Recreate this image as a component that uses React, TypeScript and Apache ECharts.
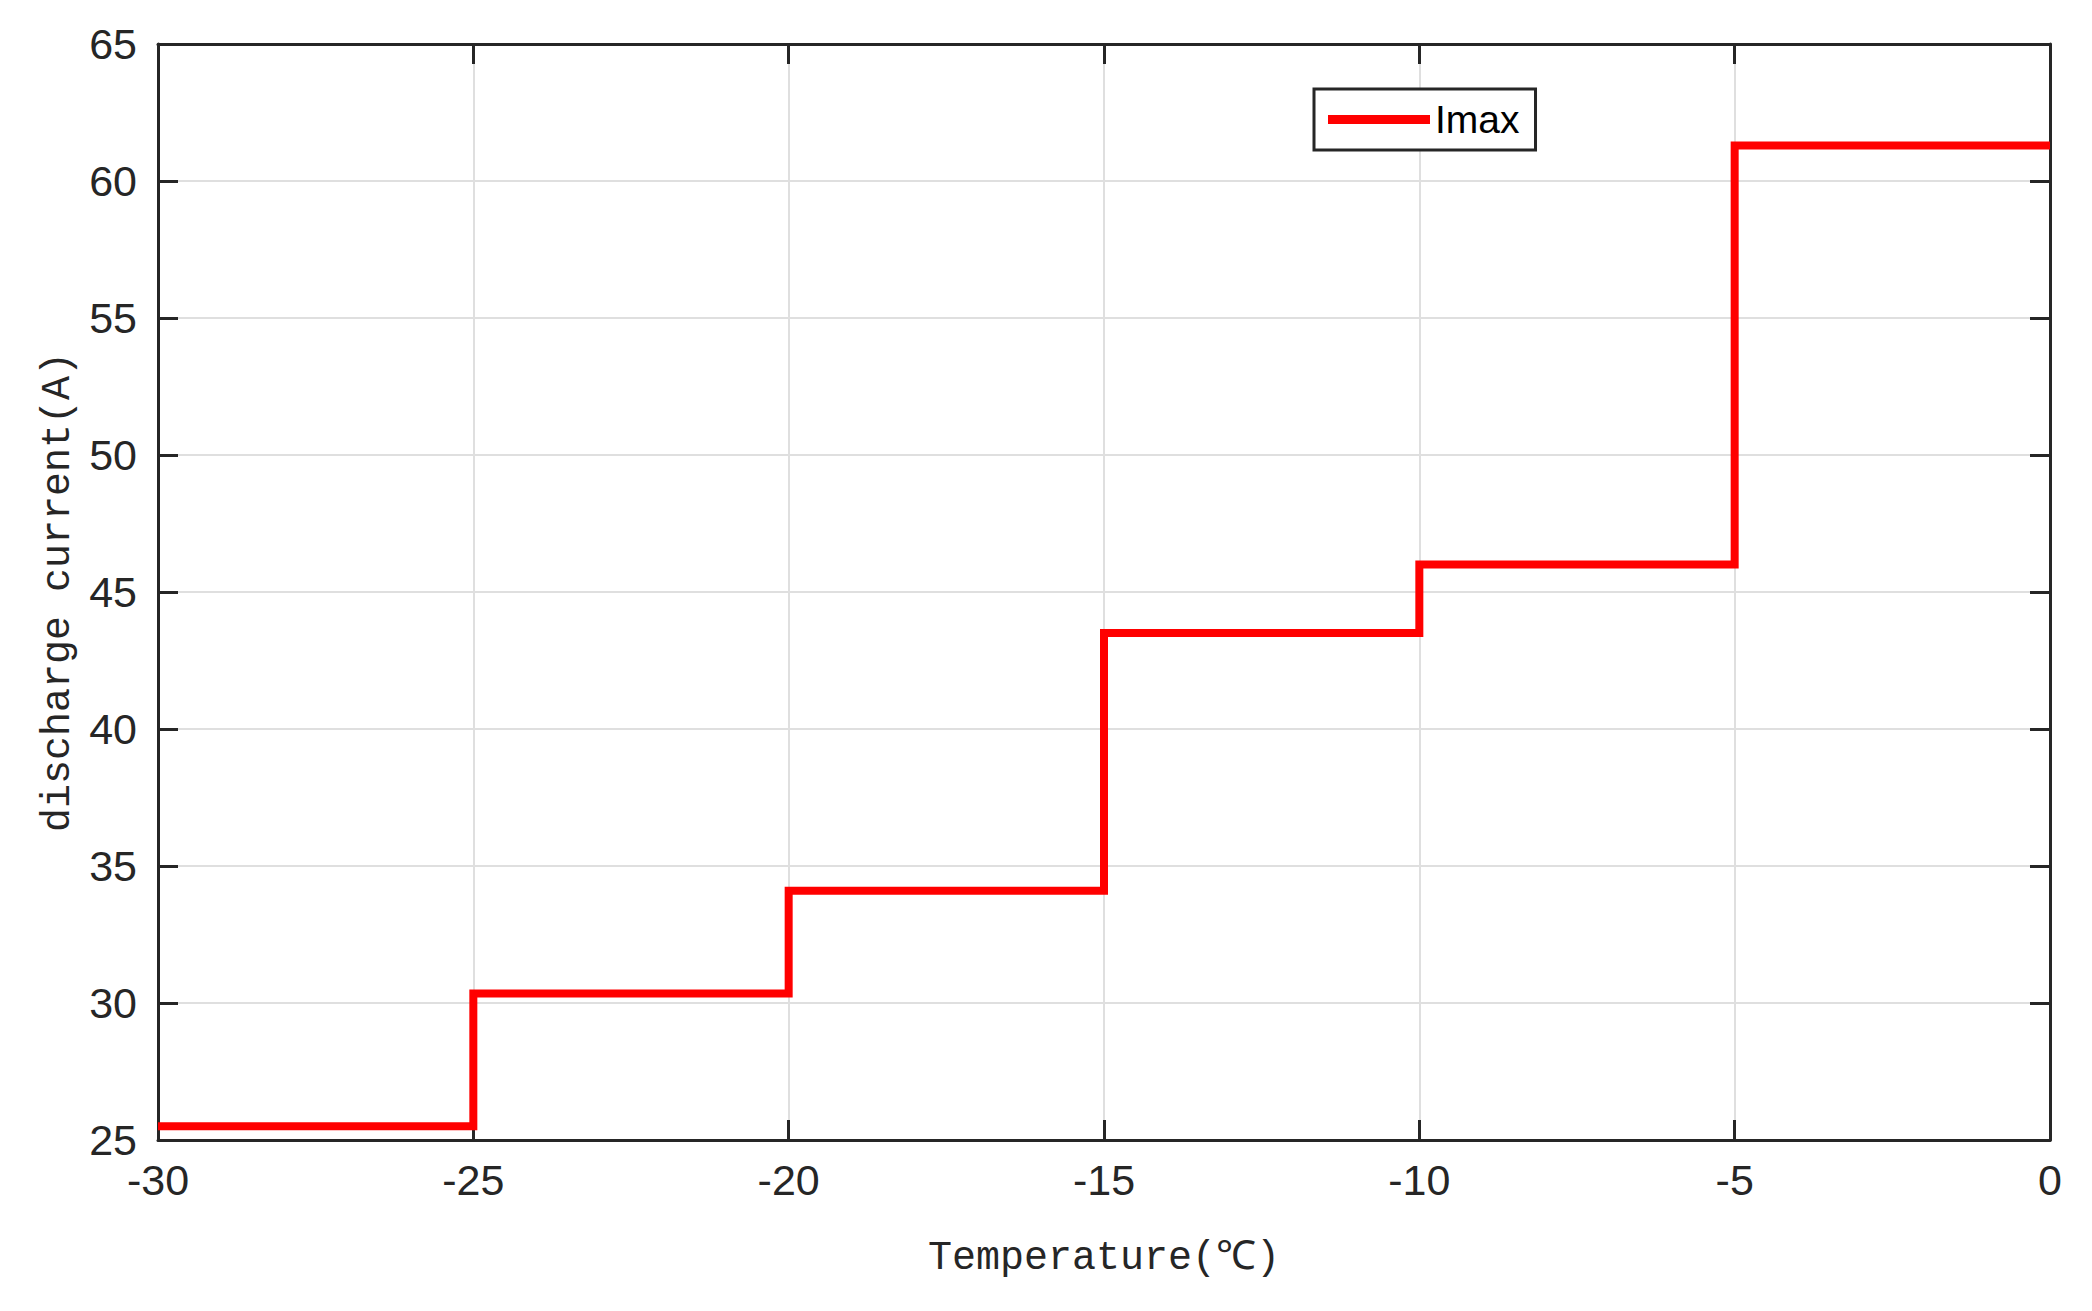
import { useEffect, useRef } from "react";
import * as echarts from "echarts";

// temperature breakpoints (°C) and the max discharge current at each step
const temps = [-30, -25, -20, -15, -10, -5, 0];
const imax = [25.5, 30.35, 34.1, 43.5, 46.0, 61.3, 61.3];
const seriesName = "Imax";

const xTitle = "Temperature(℃)";
const yTitle = "discharge current(A)";

const axisColor = "#262626";
const gridColor = "#dfdfdf";
const labelFont = "Arial, 'Liberation Sans', Helvetica, sans-serif";
const titleFont = "'Liberation Mono', 'DejaVu Sans Mono', monospace";

export default function App() {
  const chartRef = useRef<HTMLDivElement>(null);

  useEffect(() => {
    if (!chartRef.current) return;
    const chart = echarts.init(chartRef.current, null, { renderer: "svg" });

    const boxAxis = {
      axisLine: { show: true, lineStyle: { color: axisColor, width: 3 } },
      axisTick: { show: true, inside: true, length: 20, lineStyle: { color: axisColor, width: 3 } },
      axisLabel: { show: false },
      splitLine: { show: false },
    };

    const option: echarts.EChartsOption = {
      animation: false,
      backgroundColor: "#ffffff",
      grid: { left: 158, top: 44, width: 1892, height: 1096, containLabel: false },
      legend: {
        data: [{ name: seriesName, icon: "rect" }],
        left: 1314,
        top: 89,
        itemWidth: 102,
        itemHeight: 9,
        itemGap: 0,
        padding: [8, 16, 8, 14],
        borderColor: axisColor,
        borderWidth: 3,
        backgroundColor: "#ffffff",
        textStyle: {
          fontFamily: labelFont,
          fontSize: 39,
          color: "#000000",
          padding: [0, 0, 0, 0],
          lineHeight: 45,
        },
        itemStyle: { color: "#ff0000" },
      },
      xAxis: [
        {
          type: "value",
          position: "bottom",
          min: -30,
          max: 0,
          interval: 5,
          name: xTitle,
          nameLocation: "middle",
          nameGap: 98,
          nameTextStyle: { fontFamily: titleFont, fontSize: 40, color: axisColor },
          axisLine: { show: true, onZero: false, lineStyle: { color: axisColor, width: 3 } },
          axisTick: { show: true, inside: true, length: 20, lineStyle: { color: axisColor, width: 3 } },
          axisLabel: { fontFamily: labelFont, fontSize: 43, color: axisColor, margin: 18 },
          splitLine: { show: true, lineStyle: { color: gridColor, width: 2 } },
        },
        {
          type: "value",
          position: "top",
          min: -30,
          max: 0,
          interval: 5,
          ...boxAxis,
        } as any,
      ],
      yAxis: [
        {
          type: "value",
          position: "left",
          min: 25,
          max: 65,
          interval: 5,
          name: yTitle,
          nameLocation: "middle",
          nameGap: 80,
          nameTextStyle: { fontFamily: titleFont, fontSize: 40, color: axisColor },
          axisLine: { show: true, onZero: false, lineStyle: { color: axisColor, width: 3 } },
          axisTick: { show: true, inside: true, length: 20, lineStyle: { color: axisColor, width: 3 } },
          axisLabel: { fontFamily: labelFont, fontSize: 43, color: axisColor, margin: 21 },
          splitLine: { show: true, lineStyle: { color: gridColor, width: 2 } },
        },
        {
          type: "value",
          position: "right",
          min: 25,
          max: 65,
          interval: 5,
          ...boxAxis,
        } as any,
      ],
      series: [
        {
          name: seriesName,
          type: "line",
          step: "end",
          xAxisIndex: 0,
          yAxisIndex: 0,
          data: temps.map((t, i) => [t, imax[i]]),
          showSymbol: false,
          symbol: "none",
          lineStyle: { color: "#ff0000", width: 8, join: "miter" },
          itemStyle: { color: "#ff0000" },
          z: 3,
        },
      ],
    };

    chart.setOption(option);

    return () => {
      chart.dispose();
    };
  }, []);

  return (
    <div
      ref={chartRef}
      style={{ position: "fixed", left: 0, top: 0, width: 2092, height: 1311, background: "#fff" }}
    />
  );
}
